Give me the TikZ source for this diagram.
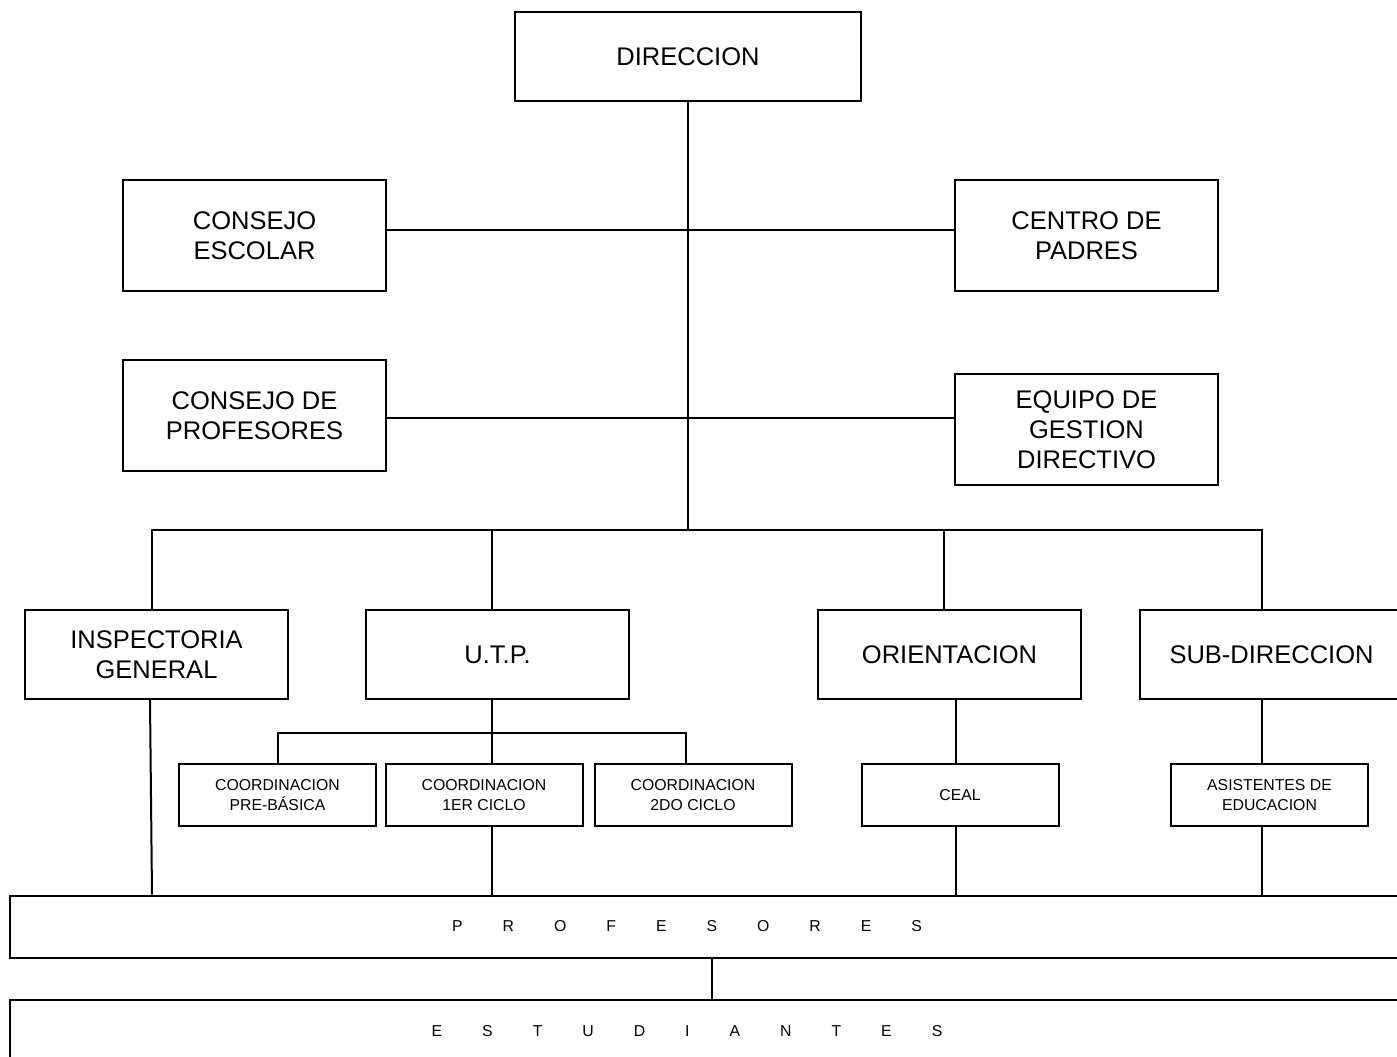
\documentclass[tikz,border=0pt]{standalone}
\usepackage{fontspec}
\setmainfont{Liberation Sans}
\begin{document}
\begin{tikzpicture}[x=1pt,y=-1pt,
  box/.style={draw, line width=2pt, inner sep=0pt, align=center, minimum width=263pt, minimum height=111pt, font=\fontsize{25.5}{30}\selectfont},
  smallbox/.style={draw, line width=2pt, inner sep=0pt, align=center, minimum width=197pt, minimum height=62pt, font=\fontsize{15.8}{20}\selectfont},
  widebox/.style={draw, line width=2pt, inner sep=0pt, minimum width=1394pt, minimum height=62pt},
  spread/.style={font=\fontsize{15.8}{20}\selectfont, xshift=-20pt},
  conn/.style={line width=2pt}]
\useasboundingbox (0,0) rectangle (1397,1057);
\clip (0,0) rectangle (1397,1057);
% top
\node[box, minimum width=346pt, minimum height=89pt] (dir) at (688,56.5) {DIRECCION};
\node[box] (esc) at (254.5,235.5) {CONSEJO\\ESCOLAR};
\node[box] (pad) at (1086.5,235.5) {CENTRO DE\\PADRES};
\node[box] (cprof) at (254.5,415.5) {CONSEJO DE\\PROFESORES};
\node[box] (equipo) at (1086.5,429.5) {EQUIPO DE\\GESTION\\DIRECTIVO};
% second row
\node[box, minimum height=89pt] (insp) at (156.5,654.5) {INSPECTORIA\\GENERAL};
\node[box, minimum height=89pt] (utp) at (497.5,654.5) {U.T.P.};
\node[box, minimum height=89pt] (ori) at (949.5,654.5) {ORIENTACION};
\node[box, minimum height=89pt] (sub) at (1271.5,654.5) {SUB-DIRECCION};
% small boxes
\node[smallbox] (pre) at (277.5,795) {COORDINACION\\PRE-BÁSICA};
\node[smallbox] (ciclo1) at (484,795) {COORDINACION\\1ER CICLO};
\node[smallbox] (ciclo2) at (693,795) {COORDINACION\\2DO CICLO};
\node[smallbox] (ceal) at (960,795) {CEAL};
\node[smallbox] (asis) at (1269.5,795) {ASISTENTES DE\\EDUCACION};
% bottom
\node[widebox, label={[spread]center:{\spaceskip=40pt P R O F E S O R E S}}] (profes) at (707,926.5) {};
\node[widebox, label={[spread]center:{\spaceskip=40pt E S T U D I A N T E S}}] (estud) at (707,1031) {};
% connector points
\coordinate (bus) at (688,530);
\coordinate (b1) at (152,530);
\coordinate (b2) at (492,530);
\coordinate (b3) at (944,530);
\coordinate (b4) at (1262,530);
\coordinate (u1) at (278,733);
\coordinate (u2) at (492,733);
\coordinate (u3) at (686,733);
\coordinate (d1) at (150,0);
\coordinate (d1b) at (152,0);
\coordinate (d3) at (956,0);
\coordinate (d4) at (1262,0);
\coordinate (e) at (712,0);
\coordinate (m1) at ([yshift=5.5pt]esc.east);
\coordinate (m2) at ([yshift=-2.5pt]cprof.east);
% lines
\draw[conn] (dir.south) -- (bus);
\draw[conn] (m1) -- (m1 -| pad.west);
\draw[conn] (m2) -- (m2 -| equipo.west);
\draw[conn] (b1 |- insp.north) -- (b1) -- (b4) -- (b4 |- sub.north);
\draw[conn] (b2) -- (b2 |- utp.north);
\draw[conn] (b3) -- (b3 |- ori.north);
\draw[conn] (u2 |- utp.south) -- (u2 |- ciclo1.north);
\draw[conn] (u1 |- pre.north) -- (u1) -- (u3) -- (u3 |- ciclo2.north);
\draw[conn] (u2 |- ciclo1.south) -- (u2 |- profes.north);
\draw[conn] (d3 |- ori.south) -- (d3 |- ceal.north);
\draw[conn] (d3 |- ceal.south) -- (d3 |- profes.north);
\draw[conn] (d4 |- sub.south) -- (d4 |- asis.north);
\draw[conn] (d4 |- asis.south) -- (d4 |- profes.north);
\draw[conn] (d1 |- insp.south) -- (d1b |- profes.north);
\draw[conn] (e |- profes.south) -- (e |- estud.north);
\end{tikzpicture}
\end{document}
